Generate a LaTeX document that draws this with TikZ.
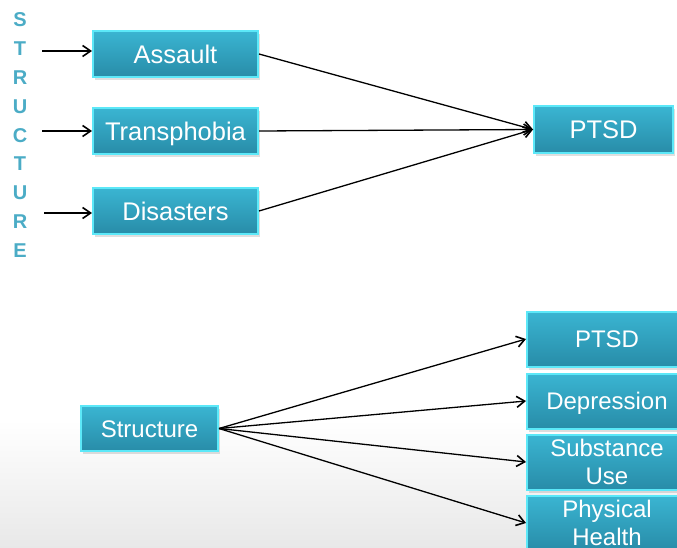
\documentclass[tikz,border=0pt]{standalone}
\usepackage{fontspec}
\setmainfont{Liberation Sans}
\usetikzlibrary{arrows.meta,shadows}
\definecolor{boxtop}{RGB}{58,181,210}
\definecolor{boxbot}{RGB}{40,140,168}
\definecolor{boxrim}{RGB}{92,232,248}
\definecolor{lettercol}{RGB}{75,172,198}
\begin{document}
\begin{tikzpicture}[x=1pt,y=-1pt,
  tealbox/.style={rectangle, draw=boxrim, line width=2pt,
    top color=boxtop, bottom color=boxbot, text=white,
    font=\fontsize{25.5}{27}\selectfont, inner sep=0pt, align=center,
    drop shadow={opacity=0.25, shadow xshift=2pt, shadow yshift=-3pt}},
  bigline/.style={text height=18.3pt, text depth=0pt},
  midline/.style={text height=17.2pt, text depth=0pt},
  smallbox/.style={tealbox, bigline, minimum width=165, minimum height=46},
  outbox/.style={tealbox, minimum width=160, minimum height=55,
    font=\fontsize{24}{28}\selectfont},
  letter/.style={text=lettercol, font=\fontsize{20}{20}\bfseries\selectfont, inner sep=0pt},
  link/.style={draw=black, line width=1.3pt,
    -{Straight Barb[length=8pt,width=11pt,line width=1.6pt]}}]
  % page and its soft grey floor
  \clip (0,0) rectangle (677,548);
  \fill[white] (0,0) rectangle (677,548);
  \shade[top color=white, bottom color=black!9] (0,420) rectangle (677,548);

  % vertical STRUCTURE label
  \foreach \ch [count=\i] in {S,T,R,U,C,T,U,R,E}
    \node[letter] (l\i) at (20, {20 + (\i-1)*28.8}) {\ch};

  % upper diagram: three stressors feeding PTSD
  \node[smallbox] (assault) at (175.5,54) {Assault};
  \node[smallbox] (trans) at (175.5,131) {Transphobia};
  \node[smallbox] (dis) at (175.5,211) {Disasters};
  \node[tealbox, bigline, minimum width=139, minimum height=47] (ptsd) at (603.5,129.5) {PTSD};

  \coordinate (in1) at (42,51);
  \coordinate (in2) at (42,131);
  \coordinate (in3) at (44,213);
  \draw[link] (in1) -- (assault.west |- in1);
  \draw[link] (in2) -- (trans.west |- in2);
  \draw[link] (in3) -- (dis.west |- in3);

  \draw[link] (assault.east) -- (ptsd.west);
  \draw[link] (trans.east) -- (ptsd.west);
  \draw[link] (dis.east) -- (ptsd.west);

  % lower diagram: structure and its outcomes
  \node[tealbox, midline, minimum width=137, minimum height=45, font=\fontsize{24}{27}\selectfont] (struct) at (149.5,428.5) {Structure};
  \node[outbox, midline] (o1) at (607,339) {PTSD};
  \node[outbox, midline] (o2) at (607,401) {Depression};
  \node[outbox] (o3) at (607,462) {Substance\\Use};
  \node[outbox] (o4) at (607,523) {Physical\\Health};

  \foreach \o in {o1,o2,o3,o4}
    \draw[link] (struct.east) -- (\o.west);
\end{tikzpicture}
\end{document}
